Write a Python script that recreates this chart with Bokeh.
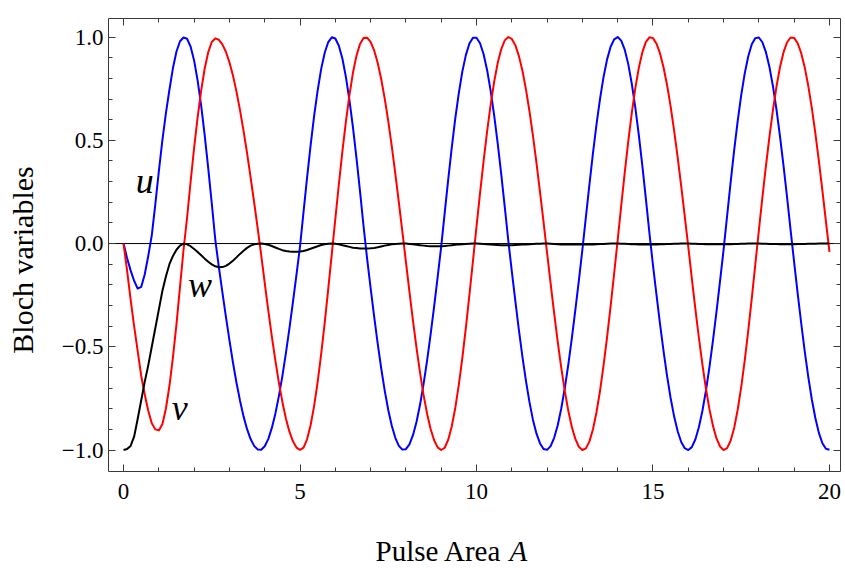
import math
from bokeh.plotting import figure
from bokeh.layouts import column
from bokeh.models import Range1d, FixedTicker, LinearAxis, Label, Span
from bokeh.embed import file_html
from bokeh.resources import INLINE

# ---- data (pulse area A, step 0.1) ----
A = [round(0.1 * i, 1) for i in range(201)]

u = [0.000, -0.070, -0.130, -0.180, -0.218, -0.210, -0.150, -0.060, 0.040, 0.190,
     0.350, 0.500, 0.630, 0.745, 0.850, 0.930, 0.980, 0.998, 0.992, 0.954,
     0.886, 0.789, 0.667, 0.524, 0.364, 0.194, 0.018, -0.113, -0.235, -0.354,
     -0.468, -0.576, -0.674, -0.761, -0.837, -0.899, -0.947, -0.980, -0.997, -0.999,
     -0.982, -0.947, -0.894, -0.825, -0.740, -0.642, -0.531, -0.411, -0.283, -0.150,
     -0.014, 0.153, 0.319, 0.475, 0.618, 0.742, 0.846, 0.924, 0.976, 0.999,
     0.993, 0.958, 0.896, 0.807, 0.695, 0.563, 0.414, 0.253, 0.085, -0.072,
     -0.215, -0.353, -0.483, -0.604, -0.712, -0.806, -0.882, -0.941, -0.980, -0.998,
     -0.996, -0.973, -0.928, -0.864, -0.781, -0.681, -0.567, -0.440, -0.304, -0.161,
     -0.015, 0.150, 0.312, 0.466, 0.607, 0.730, 0.834, 0.914, 0.969, 0.997,
     0.997, 0.970, 0.918, 0.841, 0.741, 0.622, 0.486, 0.337, 0.179, 0.016,
     -0.133, -0.278, -0.417, -0.546, -0.664, -0.767, -0.854, -0.921, -0.968, -0.995,
     -0.999, -0.981, -0.941, -0.881, -0.800, -0.702, -0.588, -0.461, -0.323, -0.179,
     -0.030, 0.129, 0.287, 0.438, 0.577, 0.701, 0.807, 0.892, 0.953, 0.989,
     1.000, 0.983, 0.939, 0.869, 0.774, 0.658, 0.524, 0.375, 0.215, 0.050,
     -0.104, -0.249, -0.390, -0.521, -0.642, -0.748, -0.838, -0.909, -0.961, -0.991,
     -1.000, -0.986, -0.949, -0.890, -0.811, -0.713, -0.598, -0.469, -0.330, -0.182,
     -0.031, 0.133, 0.296, 0.451, 0.593, 0.719, 0.824, 0.907, 0.965, 0.995,
     0.998, 0.975, 0.927, 0.855, 0.761, 0.648, 0.518, 0.375, 0.223, 0.064,
     -0.091, -0.242, -0.386, -0.522, -0.646, -0.754, -0.845, -0.917, -0.967, -0.994,
     -0.999]

v = [0.000, -0.130, -0.270, -0.400, -0.520, -0.640, -0.730, -0.810, -0.870, -0.900,
     -0.905, -0.875, -0.800, -0.690, -0.550, -0.390, -0.210, -0.030, 0.125, 0.299,
     0.464, 0.612, 0.742, 0.848, 0.927, 0.976, 0.994, 0.987, 0.965, 0.929,
     0.878, 0.814, 0.736, 0.646, 0.546, 0.438, 0.321, 0.200, 0.075, -0.055,
     -0.190, -0.322, -0.448, -0.565, -0.672, -0.767, -0.847, -0.911, -0.958, -0.988,
     -0.999, -0.988, -0.948, -0.880, -0.786, -0.670, -0.534, -0.383, -0.220, -0.051,
     0.119, 0.286, 0.445, 0.591, 0.719, 0.827, 0.910, 0.967, 0.996, 0.997,
     0.977, 0.936, 0.876, 0.797, 0.702, 0.593, 0.471, 0.339, 0.200, 0.058,
     -0.088, -0.233, -0.373, -0.504, -0.625, -0.733, -0.824, -0.898, -0.953, -0.987,
     -1.000, -0.989, -0.950, -0.885, -0.795, -0.683, -0.553, -0.406, -0.248, -0.084,
     0.082, 0.243, 0.398, 0.542, 0.672, 0.783, 0.874, 0.941, 0.984, 1.000,
     0.991, 0.961, 0.909, 0.838, 0.748, 0.642, 0.521, 0.390, 0.249, 0.104,
     -0.045, -0.193, -0.337, -0.474, -0.600, -0.712, -0.809, -0.887, -0.946, -0.984,
     -1.000, -0.992, -0.958, -0.899, -0.817, -0.713, -0.590, -0.453, -0.303, -0.145,
     0.017, 0.183, 0.344, 0.495, 0.633, 0.753, 0.852, 0.927, 0.977, 0.999,
     0.995, 0.968, 0.921, 0.853, 0.767, 0.664, 0.546, 0.417, 0.278, 0.133,
     -0.015, -0.167, -0.315, -0.455, -0.585, -0.702, -0.802, -0.883, -0.944, -0.983,
     -1.000, -0.991, -0.955, -0.893, -0.805, -0.695, -0.566, -0.421, -0.264, -0.100,
     0.064, 0.223, 0.375, 0.518, 0.648, 0.761, 0.855, 0.927, 0.975, 0.998,
     0.996, 0.970, 0.922, 0.853, 0.764, 0.657, 0.535, 0.400, 0.256, 0.107,
     -0.040]

w = [-1.000, -0.995, -0.980, -0.935, -0.850, -0.760, -0.670, -0.590, -0.500, -0.410,
     -0.320, -0.230, -0.160, -0.100, -0.060, -0.030, -0.010, 0.000, -0.004, -0.013,
     -0.026, -0.041, -0.057, -0.073, -0.088, -0.101, -0.110, -0.115, -0.114, -0.108,
     -0.097, -0.083, -0.067, -0.050, -0.035, -0.021, -0.010, -0.004, -0.001, 0.000,
     -0.002, -0.006, -0.012, -0.019, -0.026, -0.032, -0.036, -0.039, -0.040, -0.040,
     -0.039, -0.036, -0.031, -0.025, -0.019, -0.013, -0.007, -0.003, -0.001, 0.000,
     -0.001, -0.004, -0.008, -0.012, -0.016, -0.020, -0.022, -0.024, -0.024, -0.024,
     -0.023, -0.021, -0.018, -0.014, -0.010, -0.007, -0.004, -0.002, -0.001, 0.000,
     0.000, -0.002, -0.004, -0.006, -0.008, -0.010, -0.012, -0.013, -0.013, -0.013,
     -0.013, -0.012, -0.010, -0.008, -0.006, -0.004, -0.003, -0.002, -0.001, 0.000,
     0.000, -0.001, -0.002, -0.003, -0.005, -0.006, -0.007, -0.008, -0.008, -0.008,
     -0.008, -0.007, -0.006, -0.005, -0.004, -0.003, -0.002, -0.001, -0.001, 0.000,
     0.000, -0.001, -0.002, -0.003, -0.004, -0.004, -0.005, -0.005, -0.005, -0.005,
     -0.005, -0.005, -0.004, -0.004, -0.003, -0.002, -0.002, -0.001, 0.000, 0.000,
     0.000, -0.001, -0.001, -0.002, -0.003, -0.003, -0.004, -0.004, -0.004, -0.004,
     -0.004, -0.004, -0.003, -0.003, -0.002, -0.002, -0.001, -0.001, 0.000, 0.000,
     0.000, -0.001, -0.001, -0.002, -0.002, -0.003, -0.003, -0.003, -0.003, -0.003,
     -0.003, -0.003, -0.003, -0.002, -0.002, -0.001, -0.001, 0.000, 0.000, 0.000,
     0.000, -0.001, -0.001, -0.002, -0.002, -0.002, -0.003, -0.003, -0.003, -0.003,
     -0.003, -0.002, -0.002, -0.002, -0.001, -0.001, -0.001, 0.000, 0.000, 0.000,
     0.000]

x_ticks = [0, 5, 10, 15, 20]
x_tick_labels = ["0", "5", "10", "15", "20"]
x_minor_ticks = list(range(0, 21))
y_ticks = [-1.0, -0.5, 0.0, 0.5, 1.0]
y_tick_labels = ["\u22121.0", "\u22120.5", "0.0", "0.5", "1.0"]
y_minor_ticks = [round(-1.0 + 0.1 * i, 1) for i in range(21)]

x_title = "Pulse Area"
x_title_var = "A"
y_title = "Bloch variables"
series_labels = ["u", "v", "w"]

# ---- layout constants ----
W = 845
MAIN_H = 520            # main figure height (frame + tick labels)
TITLE_H = 568 - MAIN_H  # strip holding the x-axis title
FRAME_L, FRAME_R, FRAME_T, FRAME_B = 108, 840, 18, 471
X0, X1 = -0.426, 20.313
Y0, Y1 = -1.104, 1.09

p = figure(width=W, height=MAIN_H, output_backend="svg", toolbar_location=None,
           x_range=Range1d(X0, X1), y_range=Range1d(Y0, Y1),
           x_axis_location=None, y_axis_location=None,
           min_border_left=FRAME_L, min_border_right=W - FRAME_R,
           min_border_top=FRAME_T, min_border_bottom=MAIN_H - FRAME_B)
p.outline_line_color = None
p.background_fill_color = "white"
p.border_fill_color = "white"
p.grid.visible = False

AX_COL = "#3a3a3a"
TICK_FONT = "Liberation Serif"


def make_axis(ticks, minors, labels, show):
    ax = LinearAxis(ticker=FixedTicker(ticks=ticks, minor_ticks=minors))
    ax.axis_line_color = AX_COL
    ax.axis_line_width = 1
    ax.major_tick_line_color = AX_COL
    ax.minor_tick_line_color = AX_COL
    ax.major_tick_in = 7
    ax.major_tick_out = 0
    ax.minor_tick_in = 4
    ax.minor_tick_out = 0
    ax.major_label_text_font = TICK_FONT
    ax.major_label_text_color = "black"
    if show:
        ax.major_label_overrides = {float(t): lab for t, lab in zip(ticks, labels)}
        ax.major_label_text_font_size = "23px"
    else:
        ax.major_label_overrides = {float(t): "" for t in ticks}
        ax.major_label_text_font_size = "0px"
        ax.major_label_standoff = 0
    return ax


bottom = make_axis(x_ticks, x_minor_ticks, x_tick_labels, True)
bottom.major_label_standoff = 12
left = make_axis(y_ticks, y_minor_ticks, y_tick_labels, True)
left.major_label_standoff = 5
# trailing no-break spaces shift the centred title toward the bottom, as in the reference
left.axis_label = y_title + "\u00a0" * 4
left.axis_label_text_font = "Liberation Serif"
left.axis_label_text_font_style = "normal"
left.axis_label_text_font_size = "30px"
left.axis_label_text_color = "black"
left.axis_label_standoff = 20
top = make_axis(x_ticks, x_minor_ticks, x_tick_labels, False)
right = make_axis(y_ticks, y_minor_ticks, y_tick_labels, False)
p.add_layout(bottom, "below")
p.add_layout(left, "left")
p.add_layout(top, "above")
p.add_layout(right, "right")

# zero line
zero = Span(location=0, dimension="width", line_color="black", line_width=1, level="underlay")
p.add_layout(zero)

# curves
p.line(A, u, line_color="#0000ff", line_width=2, line_join="round")
p.line(A, v, line_color="#ff0000", line_width=2, line_join="round")
p.line(A, w, line_color="black", line_width=2, line_join="round")

# curve labels
for txt, (lx, ly) in zip(series_labels, [(0.60, 0.305), (1.59, -0.795), (2.17, -0.200)]):
    p.add_layout(Label(x=lx, y=ly, text=txt, text_font="Liberation Serif",
                       text_font_style="italic", text_font_size="36px",
                       text_align="center", text_baseline="alphabetic",
                       text_color="black"))

# ---- strip below holding the x-axis title ----
# the column aligns this strip's frame with the main frame, so its x range is
# set to canvas pixels (FRAME_L .. FRAME_R)
t = figure(width=W, height=TITLE_H, output_backend="svg", toolbar_location=None,
           x_range=Range1d(FRAME_L, FRAME_R), y_range=Range1d(0, TITLE_H),
           x_axis_location=None, y_axis_location=None,
           min_border_left=FRAME_L, min_border_right=W - FRAME_R,
           min_border_top=0, min_border_bottom=0)
t.outline_line_color = None
t.background_fill_color = "white"
t.border_fill_color = "white"
t.grid.visible = False
title_y = TITLE_H - (550 - MAIN_H)
t.add_layout(Label(x=375, y=title_y, text=x_title, text_font="Liberation Serif",
                   text_font_size="29px", text_align="left", text_baseline="middle",
                   text_color="black"))
t.add_layout(Label(x=509, y=title_y, text=x_title_var, text_font="Liberation Serif",
                   text_font_style="italic", text_font_size="29px", text_align="left",
                   text_baseline="middle", text_color="black"))

layout = column(p, t, spacing=0)
open("out.html", "w").write(file_html(layout, INLINE))
